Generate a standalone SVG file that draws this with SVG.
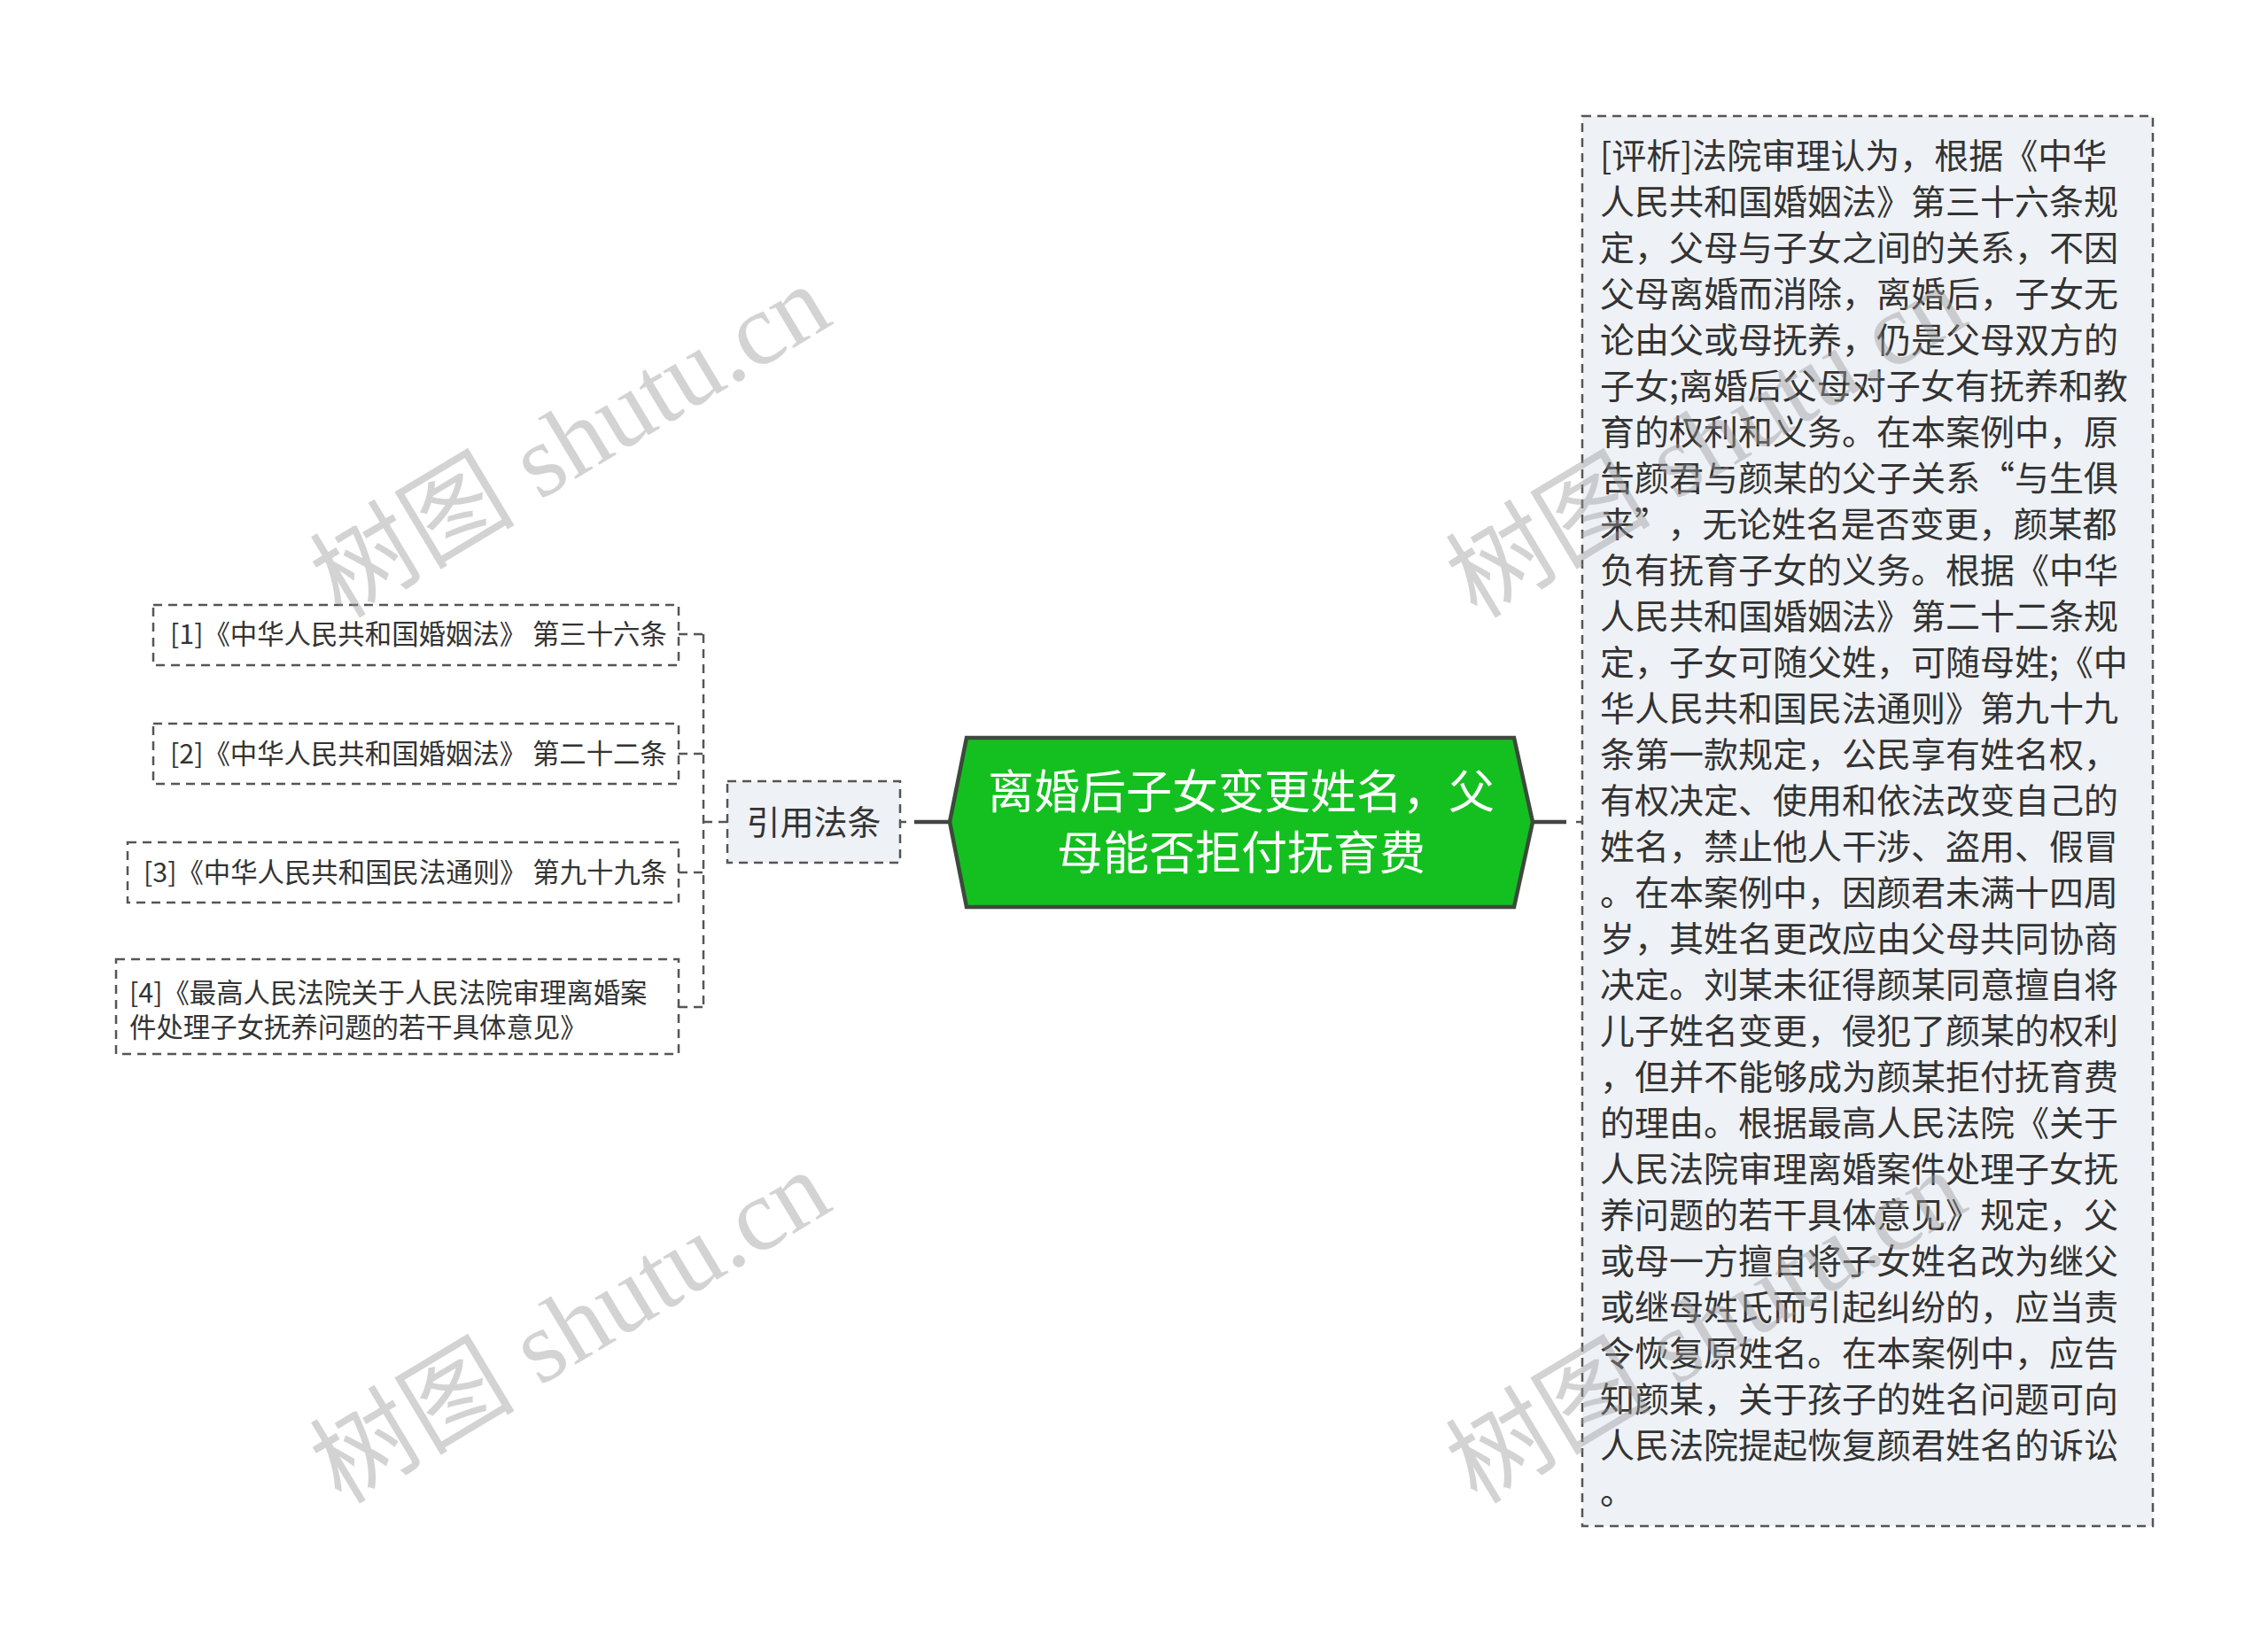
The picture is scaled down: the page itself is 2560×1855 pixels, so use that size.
<svg xmlns="http://www.w3.org/2000/svg" width="2560" height="1855" viewBox="0 0 2560 1855">
<style>
.bg{fill:#ffffff}
.dbox{fill:#ffffff;stroke:#555555;stroke-width:2.5;stroke-dasharray:10 7}
.gbox{fill:#eef1f5;stroke:#555555;stroke-width:2.5;stroke-dasharray:10 7}
.t{font-family:"Noto Sans CJK SC","Noto Sans",sans-serif;fill:#333333}
.s30{font-size:30.4px}
.s38{font-size:38px}
.s39{font-size:39px}
.c{font-family:"Noto Sans CJK SC","Noto Sans",sans-serif;fill:#ffffff;font-size:52px}
.dash{fill:none;stroke:#555555;stroke-width:2.5;stroke-dasharray:10 7}
.thick{fill:none;stroke:#444444;stroke-width:4.5}
.thin{fill:none;stroke:#555555;stroke-width:2.5}
.wm{font-family:"Liberation Serif","Noto Sans CJK SC",serif;font-size:116px;fill:#999999;opacity:0.42}
</style>
<rect class="bg" x="0" y="0" width="2560" height="1855"/>

<g id="connectors">
  <path class="dash" d="M766,716 H794 M766,851 H794 M766,985 H794 M766,1137 H794 M794,716 V1137 M794,928 H821"/>
  <path class="thin" d="M1016,928 H1023"/>
  <path class="thick" d="M1032,928 H1072"/>
  <path class="thick" d="M1730,928 H1768"/>
  <path class="thin" d="M1779,928 H1786"/>
</g>

<g id="node-ref1">
  <rect class="dbox" x="173" y="683" width="593" height="68"/>
  <text class="t s30" x="192" y="727">[1]《中华人民共和国婚姻法》 第三十六条</text>
</g>
<g id="node-ref2">
  <rect class="dbox" x="173" y="817" width="593" height="68"/>
  <text class="t s30" x="192" y="862">[2]《中华人民共和国婚姻法》 第二十二条</text>
</g>
<g id="node-ref3">
  <rect class="dbox" x="144" y="951" width="622" height="68"/>
  <text class="t s30" x="162" y="996">[3]《中华人民共和国民法通则》 第九十九条</text>
</g>
<g id="node-ref4">
  <rect class="dbox" x="131" y="1083" width="635" height="107"/>
  <text class="t s30" x="146" y="1132">[4]《最高人民法院关于人民法院审理离婚案</text>
  <text class="t s30" x="146" y="1171">件处理子女抚养问题的若干具体意见》</text>
</g>

<g id="node-cite">
  <rect class="gbox" x="821" y="882" width="195" height="92"/>
  <text class="t s38" x="918.5" y="942" text-anchor="middle">引用法条</text>
</g>

<g id="node-center">
  <polygon points="1072,928 1091,833 1709,833 1730,928 1709,1024 1091,1024" fill="#14c01f" stroke="#3c4a3c" stroke-width="4.5" stroke-linejoin="miter"/>
  <text class="c" x="1401" y="913" text-anchor="middle">离婚后子女变更姓名，父</text>
  <text class="c" x="1401" y="982" text-anchor="middle">母能否拒付抚育费</text>
</g>

<g id="node-analysis">
  <rect class="gbox" x="1786" y="131" width="644" height="1592"/>
  <g class="t s39">
    <text x="1806" y="190">[评析]法院审理认为，根据《中华</text>
    <text x="1806" y="242">人民共和国婚姻法》第三十六条规</text>
    <text x="1806" y="294">定，父母与子女之间的关系，不因</text>
    <text x="1806" y="346">父母离婚而消除，离婚后，子女无</text>
    <text x="1806" y="398">论由父或母抚养，仍是父母双方的</text>
    <text x="1806" y="450">子女;离婚后父母对子女有抚养和教</text>
    <text x="1806" y="502">育的权利和义务。在本案例中，原</text>
    <text x="1806" y="554">告颜君与颜某的父子关系“与生俱</text>
    <text x="1806" y="606">来”<tspan dx="18">，无论姓名是否变更，颜某都</tspan></text>
    <text x="1806" y="658">负有抚育子女的义务。根据《中华</text>
    <text x="1806" y="710">人民共和国婚姻法》第二十二条规</text>
    <text x="1806" y="762">定，子女可随父姓，可随母姓;《中</text>
    <text x="1806" y="814">华人民共和国民法通则》第九十九</text>
    <text x="1806" y="866">条第一款规定，公民享有姓名权，</text>
    <text x="1806" y="918">有权决定、使用和依法改变自己的</text>
    <text x="1806" y="970">姓名，禁止他人干涉、盗用、假冒</text>
    <text x="1806" y="1022">。在本案例中，因颜君未满十四周</text>
    <text x="1806" y="1074">岁，其姓名更改应由父母共同协商</text>
    <text x="1806" y="1126">决定。刘某未征得颜某同意擅自将</text>
    <text x="1806" y="1178">儿子姓名变更，侵犯了颜某的权利</text>
    <text x="1806" y="1230">，但并不能够成为颜某拒付抚育费</text>
    <text x="1806" y="1282">的理由。根据最高人民法院《关于</text>
    <text x="1806" y="1334">人民法院审理离婚案件处理子女抚</text>
    <text x="1806" y="1386">养问题的若干具体意见》规定，父</text>
    <text x="1806" y="1438">或母一方擅自将子女姓名改为继父</text>
    <text x="1806" y="1490">或继母姓氏而引起纠纷的，应当责</text>
    <text x="1806" y="1542">令恢复原姓名。在本案例中，应告</text>
    <text x="1806" y="1594">知颜某，关于孩子的姓名问题可向</text>
    <text x="1806" y="1646">人民法院提起恢复颜君姓名的诉讼</text>
    <text x="1806" y="1698">。</text>
  </g>
</g>

<g id="watermarks">
  <text class="wm" transform="translate(664,532) rotate(-31)" text-anchor="middle">树图 shutu.cn</text>
  <text class="wm" transform="translate(664,1532) rotate(-31)" text-anchor="middle">树图 shutu.cn</text>
  <text class="wm" transform="translate(1946,532) rotate(-31)" text-anchor="middle">树图 shutu.cn</text>
  <text class="wm" transform="translate(1946,1532) rotate(-31)" text-anchor="middle">树图 shutu.cn</text>
</g>
</svg>
